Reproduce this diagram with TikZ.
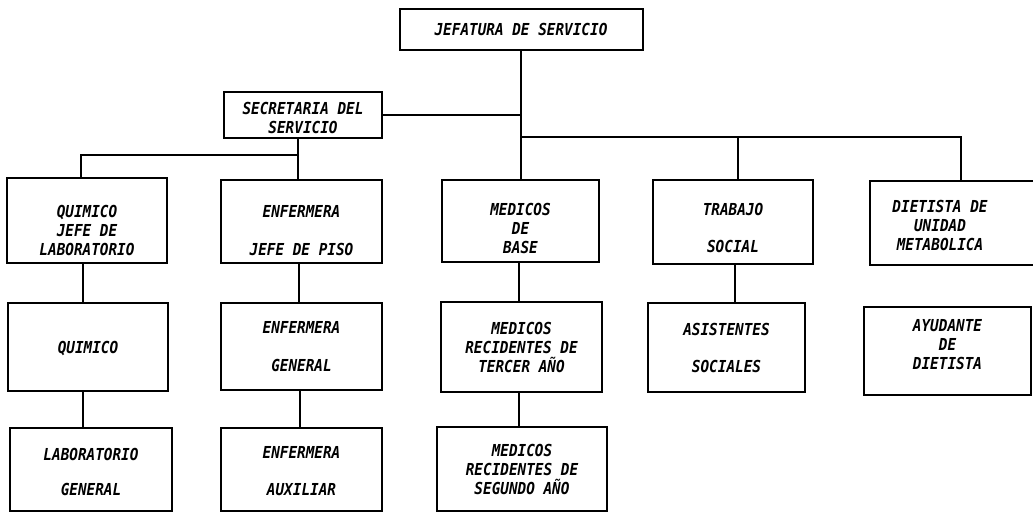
\documentclass[tikz,border=0pt]{standalone}
\usepackage{fontspec}
\newfontfamily\hand[FakeStretch=0.87]{DejaVu Sans Mono}
\newcommand\dn[1]{\rule{0pt}{\dimexpr12pt+#1pt*2\relax}}
\newcommand\upr[1]{\rule[\dimexpr-#1pt*2\relax]{0pt}{\dimexpr#1pt*2\relax}}
\newcommand\padr{\rule{30pt}{0pt}}
\begin{document}
\begin{tikzpicture}[x=1pt,y=-1pt,
  box/.style={draw, line width=2pt, inner sep=0pt, align=center,
    font=\hand\bfseries\itshape\fontsize{16.5}{19}\selectfont},
  conn/.style={line width=2pt}]
\useasboundingbox (0,0) rectangle (1033,513);
% top
\node[box, minimum width=243, minimum height=41] (jef) at (521,29.5) {JEFATURA DE SERVICIO};
\node[box, minimum width=158, minimum height=46] (sec) at (303,115) {\dn{3}SECRETARIA DEL\\SERVICIO};
% row 1
\node[box, minimum width=160, minimum height=85] (qj) at (87,220.5) {\dn{10}QUIMICO\\JEFE DE\\LABORATORIO};
\node[box, minimum width=161, minimum height=83] (ej) at (301.5,221.5) {\dn{9}ENFERMERA\\[19pt]JEFE DE PISO};
\node[box, minimum width=157, minimum height=82] (mb) at (520.5,221) {\dn{8}MEDICOS\\DE\\BASE};
\node[box, minimum width=160, minimum height=84] (ts) at (733,222) {\dn{6}TRABAJO\\[18pt]SOCIAL};
\node[box, minimum width=170, minimum height=84] (du) at (955,223) {\dn{3}DIETISTA DE\padr\\UNIDAD\padr\\METABOLICA\padr};
% row 2
\node[box, minimum width=160, minimum height=88] (q) at (88,347) {\dn{2}QUIMICO};
\node[box, minimum width=161, minimum height=87] (eg) at (301.5,346.5) {ENFERMERA\\[19pt]GENERAL};
\node[box, minimum width=161, minimum height=90] (mt) at (521.5,347) {MEDICOS\\RECIDENTES DE\\TERCER AÑO};
\node[box, minimum width=157, minimum height=89] (as) at (726.5,347.5) {ASISTENTES\\[18pt]SOCIALES};
\node[box, minimum width=167, minimum height=88] (ad) at (947.5,351) {AYUDANTE\\DE\\DIETISTA\upr{7}};
% row 3
\node[box, minimum width=162, minimum height=83] (lg) at (91,469.5) {\dn{3}LABORATORIO\\[16pt]GENERAL};
\node[box, minimum width=161, minimum height=83] (ea) at (301.5,469.5) {\dn{2}ENFERMERA\\[18pt]AUXILIAR};
\node[box, minimum width=170, minimum height=84] (ms) at (522,469) {MEDICOS\\RECIDENTES DE\\SEGUNDO AÑO};
% connectors
\draw[conn] (jef.south) -- (jef.south |- mb.north);
\draw[conn] (sec.east) -- (sec.east -| jef.south);
\coordinate (bus) at (521,137);
\draw[conn] (bus) -| ([xshift=6pt]du.north);
\draw[conn] ([xshift=5pt]ts.north) -- ([xshift=5pt]ts.north |- bus);
\coordinate (sb) at ([xshift=-5pt]sec.south);
\draw[conn] (sb) -- (sb |- ej.north);
\coordinate (lb) at (298,155);
\draw[conn] (lb) -| ([xshift=-6pt]qj.north);
\draw[conn] ([xshift=-4pt]qj.south) -- ([xshift=-4pt]qj.south |- q.north);
\draw[conn] ([xshift=-5pt]q.south) -- ([xshift=-5pt]q.south |- lg.north);
\draw[conn] ([xshift=-2.5pt]ej.south) -- ([xshift=-2.5pt]ej.south |- eg.north);
\draw[conn] ([xshift=-1.5pt]eg.south) -- ([xshift=-1.5pt]eg.south |- ea.north);
\draw[conn] ([xshift=-1.5pt]mb.south) -- ([xshift=-1.5pt]mb.south |- mt.north);
\draw[conn] ([xshift=-2.5pt]mt.south) -- ([xshift=-2.5pt]mt.south |- ms.north);
\draw[conn] ([xshift=2pt]ts.south) -- ([xshift=2pt]ts.south |- as.north);
\end{tikzpicture}
\end{document}
